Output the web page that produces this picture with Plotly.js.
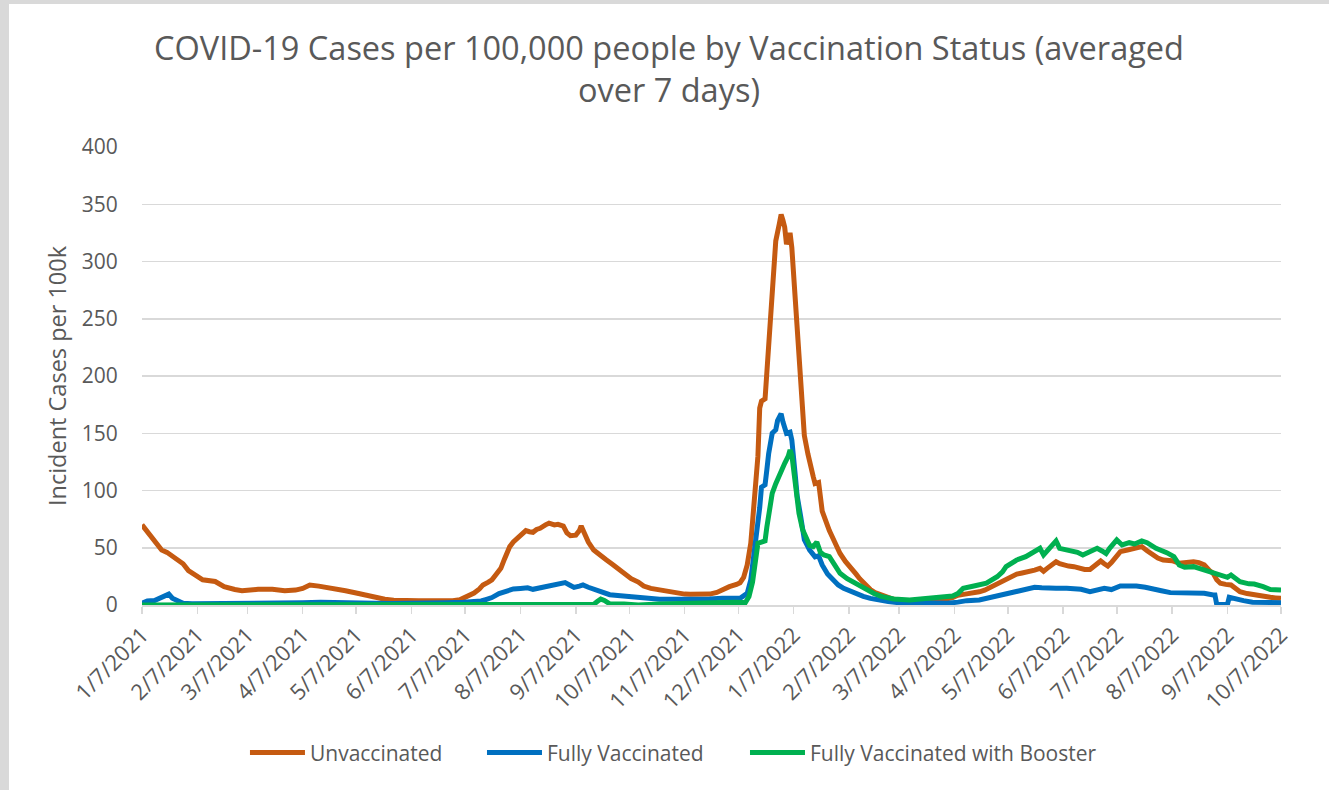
<!DOCTYPE html>
<html>
<head>
<meta charset="utf-8">
<script src="https://cdn.plot.ly/plotly-3.0.1.min.js"></script>
<style>
  html, body { margin: 0; padding: 0; background: #d9d9d9; width: 1329px; height: 790px; overflow: hidden; }
  #chart { position: absolute; left: 9px; top: 4px; width: 1320px; height: 786px; background: #ffffff; }
</style>
</head>
<body>
<div id="chart"></div>
<script>
// ---- Data ----
const unvaxDates = ['2021-01-07','2021-01-11','2021-01-14','2021-01-18','2021-01-21','2021-01-26','2021-01-30','2021-02-02','2021-02-06','2021-02-10','2021-02-17','2021-02-22','2021-02-28','2021-03-04','2021-03-13','2021-03-21','2021-03-28','2021-04-03','2021-04-07','2021-04-11','2021-04-16','2021-04-21','2021-04-26','2021-05-01','2021-05-07','2021-05-12','2021-05-18','2021-05-23','2021-05-28','2021-06-02','2021-06-11','2021-06-18','2021-06-24','2021-06-30','2021-07-04','2021-07-06','2021-07-09','2021-07-12','2021-07-15','2021-07-17','2021-07-20','2021-07-22','2021-07-24','2021-07-27','2021-07-29','2021-08-01','2021-08-03','2021-08-05','2021-08-08','2021-08-10','2021-08-12','2021-08-14','2021-08-16','2021-08-18','2021-08-21','2021-08-23','2021-08-26','2021-08-28','2021-08-31','2021-09-02','2021-09-04','2021-09-07','2021-09-09','2021-09-10','2021-09-12','2021-09-14','2021-09-17','2021-09-20','2021-09-24','2021-09-28','2021-10-02','2021-10-05','2021-10-08','2021-10-12','2021-10-15','2021-10-19','2021-10-22','2021-10-26','2021-10-30','2021-11-03','2021-11-07','2021-11-10','2021-11-14','2021-11-18','2021-11-21','2021-11-25','2021-11-28','2021-12-02','2021-12-06','2021-12-08','2021-12-10','2021-12-12','2021-12-14','2021-12-16','2021-12-18','2021-12-19','2021-12-20','2021-12-22','2021-12-23','2021-12-24','2021-12-26','2021-12-28','2021-12-30','2021-12-31','2022-01-01','2022-01-02','2022-01-03','2022-01-04','2022-01-05','2022-01-06','2022-01-08','2022-01-09','2022-01-11','2022-01-13','2022-01-15','2022-01-16','2022-01-18','2022-01-19','2022-01-21','2022-01-23','2022-01-25','2022-01-27','2022-01-30','2022-02-02','2022-02-05','2022-02-08','2022-02-11','2022-02-13','2022-02-16','2022-02-19','2022-02-22','2022-02-25','2022-02-28','2022-03-04','2022-03-09','2022-03-13','2022-03-18','2022-03-23','2022-03-28','2022-04-02','2022-04-06','2022-04-09','2022-04-13','2022-04-17','2022-04-21','2022-04-24','2022-04-28','2022-05-03','2022-05-06','2022-05-09','2022-05-12','2022-05-15','2022-05-19','2022-05-22','2022-05-25','2022-05-27','2022-05-29','2022-06-01','2022-06-03','2022-06-05','2022-06-07','2022-06-10','2022-06-13','2022-06-16','2022-06-19','2022-06-22','2022-06-25','2022-06-28','2022-06-30','2022-07-02','2022-07-04','2022-07-06','2022-07-09','2022-07-13','2022-07-17','2022-07-21','2022-07-24','2022-07-27','2022-07-30','2022-08-02','2022-08-07','2022-08-11','2022-08-15','2022-08-19','2022-08-22','2022-08-25','2022-08-28','2022-08-30','2022-09-01','2022-09-03','2022-09-06','2022-09-09','2022-09-12','2022-09-14','2022-09-18','2022-09-22','2022-09-26','2022-10-01','2022-10-04','2022-10-07'];
const unvaxValues = [70,62,55,48,46,41,36,30,26,22,20.5,16,13.5,12.5,13.7,13.7,12.5,13,14.5,17.5,16.5,15.5,14,12.5,10.5,8.7,7,5,4.2,3.8,3.8,3.8,3.5,3.8,4.5,5.8,8,10.5,14,17.5,20,22,26,32,40,51,55,58,63,65,64,63.5,66,67,70,71.5,70,70.5,69,63,60.5,61,65,69,62,55,48,44,39.5,35,30.5,26,23,20,16.5,14.5,13.7,12,11,10.5,9.5,9.3,9.3,9,9.5,11,13.5,16,18,19.5,24,35,54,88,130,172,178,180,205,232,275,318,333,341,336,330,315,322,325,312,262,235,190,148,132,124,112,106,107,82,72,65,55,45,38,33,27,23,18,13.5,10.5,8.5,7,5,4.2,3.8,4,4.4,4.5,5,6.5,8.5,9.5,10.2,11.5,13,16,20.5,23,25,27,28,29,30.5,32,29.5,32,35,37.8,36,35,34,33.5,32,31,31,35,38.4,36,34,37,41,46.6,48,49.5,51,47.4,44,41,39.3,38.7,36.4,37,37.8,37,35,30,27.7,22,19,18,17.5,14,11.6,10,8.7,7.5,6.7,6.2,5.8];

const fullyDates = ['2021-01-07','2021-01-10','2021-01-14','2021-01-17','2021-01-20','2021-01-22','2021-01-24','2021-01-27','2021-01-30','2021-02-04','2021-02-16','2021-02-26','2021-03-08','2021-03-18','2021-03-28','2021-04-07','2021-04-17','2021-04-27','2021-05-07','2021-05-17','2021-05-27','2021-06-06','2021-06-16','2021-06-26','2021-07-06','2021-07-12','2021-07-16','2021-07-19','2021-07-22','2021-07-26','2021-07-30','2021-08-03','2021-08-07','2021-08-11','2021-08-14','2021-08-18','2021-08-22','2021-08-26','2021-08-30','2021-09-01','2021-09-04','2021-09-06','2021-09-09','2021-09-11','2021-09-14','2021-09-18','2021-09-22','2021-09-26','2021-10-02','2021-10-07','2021-10-12','2021-10-17','2021-10-24','2021-10-30','2021-11-05','2021-11-13','2021-11-21','2021-11-28','2021-12-03','2021-12-08','2021-12-10','2021-12-12','2021-12-14','2021-12-15','2021-12-17','2021-12-18','2021-12-19','2021-12-20','2021-12-22','2021-12-23','2021-12-24','2021-12-26','2021-12-28','2021-12-29','2021-12-31','2022-01-01','2022-01-03','2022-01-05','2022-01-06','2022-01-08','2022-01-09','2022-01-11','2022-01-13','2022-01-16','2022-01-19','2022-01-21','2022-01-23','2022-01-26','2022-01-29','2022-02-01','2022-02-04','2022-02-07','2022-02-11','2022-02-15','2022-02-19','2022-02-23','2022-03-01','2022-03-08','2022-03-13','2022-03-20','2022-03-28','2022-04-03','2022-04-09','2022-04-14','2022-04-21','2022-04-28','2022-05-04','2022-05-08','2022-05-12','2022-05-18','2022-05-22','2022-05-26','2022-05-29','2022-06-03','2022-06-09','2022-06-13','2022-06-17','2022-06-22','2022-06-26','2022-06-30','2022-07-04','2022-07-09','2022-07-14','2022-07-18','2022-07-23','2022-07-27','2022-08-01','2022-08-06','2022-08-15','2022-08-20','2022-08-25','2022-08-30','2022-08-31','2022-09-01','2022-09-04','2022-09-07','2022-09-08','2022-09-12','2022-09-16','2022-09-21','2022-09-27','2022-10-07'];
const fullyValues = [1.5,3.5,4,6,7.5,9.5,6,3.5,1.5,1,1.2,1,0.8,0.8,1.5,2,2.5,2.5,2,1.5,1.3,1.3,1.5,2,2.5,3,3.5,5,6.5,10,12.5,14,14.5,15,13.7,15,16.6,17.5,19,19.5,17,15.4,16.5,17.5,15.5,13,10.5,9,8,7.3,6,5,5,5,4.8,5,5.2,6,5.8,5.8,8,10.2,22,33.5,55,68,85,103,105,118,132,150,153,161,167,160,150,151,144,112,95,77,57,48,42,43,35,27,22,17.5,14.6,12.5,10.2,7.5,5.8,4.4,3,1.8,1.5,2,1.8,1.5,2.5,3.8,4.4,6.7,8.5,10.8,12,13.1,15.4,15,14.6,14.6,14.6,14,13.7,11.6,13,14.6,13.5,16.6,16.6,16.6,15.5,14.6,12.5,10.8,10.8,10.5,10.2,8.7,8.7,0.5,0,0.5,6.7,5,3.8,2.5,2,2];

const boosterDates = ['2021-01-07','2021-03-07','2021-05-07','2021-07-07','2021-09-14','2021-09-17','2021-09-19','2021-09-21','2021-09-23','2021-09-26','2021-10-04','2021-10-12','2021-10-24','2021-11-03','2021-11-13','2021-11-23','2021-11-29','2021-12-05','2021-12-11','2021-12-13','2021-12-15','2021-12-17','2021-12-18','2021-12-20','2021-12-22','2021-12-23','2021-12-24','2021-12-26','2021-12-28','2021-12-30','2022-01-02','2022-01-04','2022-01-05','2022-01-06','2022-01-08','2022-01-10','2022-01-12','2022-01-14','2022-01-16','2022-01-18','2022-01-20','2022-01-22','2022-01-24','2022-01-27','2022-01-30','2022-02-02','2022-02-06','2022-02-09','2022-02-13','2022-02-17','2022-02-21','2022-02-25','2022-03-04','2022-03-13','2022-03-23','2022-04-01','2022-04-06','2022-04-09','2022-04-12','2022-04-18','2022-04-25','2022-05-01','2022-05-04','2022-05-06','2022-05-12','2022-05-17','2022-05-21','2022-05-25','2022-05-27','2022-05-30','2022-06-01','2022-06-03','2022-06-05','2022-06-08','2022-06-11','2022-06-15','2022-06-18','2022-06-22','2022-06-26','2022-06-29','2022-07-01','2022-07-03','2022-07-07','2022-07-10','2022-07-14','2022-07-17','2022-07-21','2022-07-24','2022-07-29','2022-08-04','2022-08-08','2022-08-11','2022-08-14','2022-08-19','2022-08-25','2022-09-01','2022-09-07','2022-09-09','2022-09-14','2022-09-19','2022-09-22','2022-09-27','2022-10-01','2022-10-07'];
const boosterValues = [0,0,0,0,0,0.5,3,5.2,4,1,0.8,0,0.8,1.2,1.5,2.5,3,2.5,2.2,7.3,20,40,54,55,56,68,80,97.5,106,114,123.7,130,135.4,131,106,80,66,58,52,51,55,46,43.7,42.2,35,27.7,23,20.4,16,13.5,10,7.5,5.2,4.4,5.8,6.7,7.9,10,14.6,16.6,19,24.7,29,33.5,39.3,42.2,45.7,49.5,43.7,49.5,52,56,49.5,48.5,47.4,46,43.7,46.5,49.5,47,45,49.5,56.8,52.4,54.4,53.3,55.9,54.4,49.5,45.7,42.2,35,33,33.5,30.6,26.2,24.2,26.2,20.4,18.5,18.3,16,13.5,13.1];

const tickDates = ['2021-01-07','2021-02-07','2021-03-07','2021-04-07','2021-05-07','2021-06-07','2021-07-07','2021-08-07','2021-09-07','2021-10-07','2021-11-07','2021-12-07','2022-01-07','2022-02-07','2022-03-07','2022-04-07','2022-05-07','2022-06-07','2022-07-07','2022-08-07','2022-09-07','2022-10-07'];
const tickLabels = ['1/7/2021','2/7/2021','3/7/2021','4/7/2021','5/7/2021','6/7/2021','7/7/2021','8/7/2021','9/7/2021','10/7/2021','11/7/2021','12/7/2021','1/7/2022','2/7/2022','3/7/2022','4/7/2022','5/7/2022','6/7/2022','7/7/2022','8/7/2022','9/7/2022','10/7/2022'];

const seriesNames = ['Unvaccinated','Fully Vaccinated','Fully Vaccinated with Booster'];
const seriesColors = ['#C55A11','#0070C0','#00B050'];

const FONT = '"Open Sans", "Noto Sans", sans-serif';
const TXT = '#595959';
const LW = 5;

const data = [
  {x: unvaxDates, y: unvaxValues, name: seriesNames[0], type: 'scatter', mode: 'lines', line: {color: seriesColors[0], width: LW}, legend: 'legend'},
  {x: fullyDates, y: fullyValues, name: seriesNames[1], type: 'scatter', mode: 'lines', line: {color: seriesColors[1], width: LW}, legend: 'legend2'},
  {x: boosterDates, y: boosterValues, name: seriesNames[2], type: 'scatter', mode: 'lines', line: {color: seriesColors[2], width: LW}, legend: 'legend3'}
];

function legendAt(xPaper) {
  return {
    orientation: 'h', x: xPaper, xanchor: 'left', y: -0.323, yanchor: 'middle',
    font: {family: FONT, size: 21, color: TXT}, itemwidth: 55,
    bgcolor: 'rgba(0,0,0,0)', borderwidth: 0
  };
}

const layout = {
  width: 1320, height: 786,
  paper_bgcolor: '#ffffff', plot_bgcolor: '#ffffff',
  margin: {l: 133, r: 48, t: 143, b: 185, autoexpand: false},
  font: {family: FONT, color: TXT, size: 21},
  title: {
    text: 'COVID-19 Cases per 100,000 people by Vaccination Status (averaged<br>over 7 days)',
    font: {family: FONT, size: 32.5, color: TXT},
    x: 0.5, xref: 'container', xanchor: 'center', y: 0.929, yref: 'container', yanchor: 'top'
  },
  showlegend: true,
  legend: legendAt(0.0904),
  legend2: legendAt(0.2985),
  legend3: legendAt(0.5294),
  xaxis: {
    type: 'date', range: ['2021-01-07', '2022-10-07'],
    tickmode: 'array', tickvals: tickDates, ticktext: tickLabels,
    tickangle: -45, ticks: 'outside', ticklen: 7, tickwidth: 1.5, tickcolor: '#d9d9d9',
    showline: true, linecolor: '#d9d9d9', linewidth: 1.5,
    showgrid: false, zeroline: false,
    tickfont: {family: FONT, size: 22, color: TXT}, automargin: false
  },
  yaxis: {
    range: [0, 400], dtick: 50, tick0: 0,
    ticks: 'outside', ticklen: 19, tickcolor: 'rgba(0,0,0,0)',
    showgrid: true, gridcolor: '#d9d9d9', gridwidth: 1.5,
    zeroline: false, showline: false,
    tickfont: {family: FONT, size: 21, color: TXT},
    title: {text: 'Incident Cases per 100k', font: {family: FONT, size: 23.5, color: TXT}, standoff: 8},
    automargin: false
  }
};

Plotly.newPlot('chart', data, layout, {displayModeBar: false, staticPlot: true});
</script>
</body>
</html>
